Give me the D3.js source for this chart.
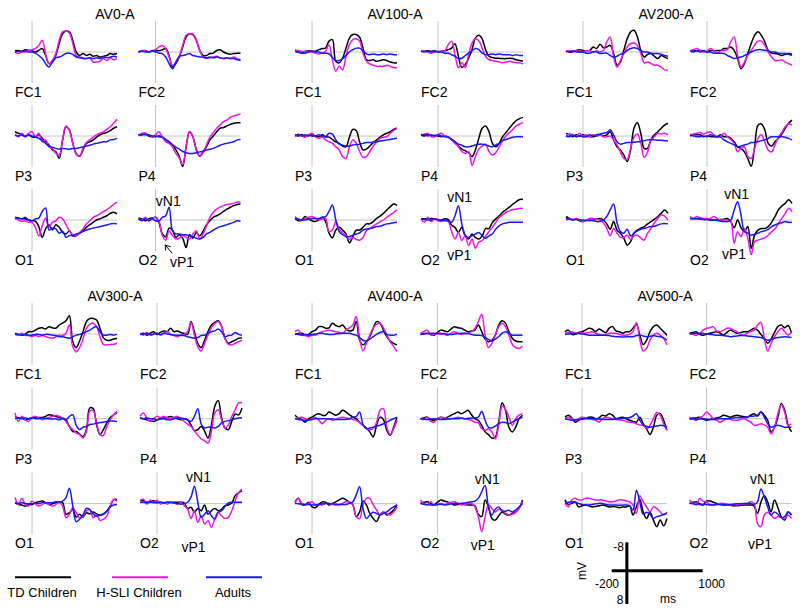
<!DOCTYPE html>
<html><head><meta charset="utf-8">
<script src="https://cdn.jsdelivr.net/npm/d3@7"></script>
<style>body{margin:0;background:#fff}svg{display:block}text{font-family:"Liberation Sans",Arial,sans-serif;fill:#000}</style>
</head><body><svg id="chart" width="800" height="611"></svg>
<script>
// ---------------- DATA ----------------
const TIMES = [-200,-160,-120,-80,-40,0,40,80,120,160,200,240,280,320,360,400,440,480,520,560,600,640,680,720,760,800,840,880,920,960,1000];
const CONDITIONS = ["AV0-A","AV100-A","AV200-A","AV300-A","AV400-A","AV500-A"];
const ELECTRODES = ["FC1","FC2","P3","P4","O1","O2"];
const GROUP_NAMES = ["TD Children","H-SLI Children","Adults"];
const SCALE_MS = [-200, 1000];
const SCALE_UV = [-8, 8];
const VN1_MS = [150, 255, 349, 489, 585, 659];
const VP1_MS = [312, 250, 318, 430, 533, 629];

// values in microvolts (negative plotted up)
const AV0_FC1_TD = [-0.3,-0.4,-0.2,-0.6,-0.4,-0.3,0,-0.4,-0.9,0.9,3.0,2.6,0.9,-2.2,-4.7,-5.4,-5.2,-3.0,0,0.9,0.4,0.9,0.6,1.1,0.9,1.3,1.1,0.9,0.4,0.6,0.4];
const AV0_FC1_HSLI = [0,0.4,-0.2,0,-0.4,-0.6,-0.9,-1.7,-3.0,0.4,3.0,2.2,0.4,-3.0,-5.2,-5.4,-4.9,-2.2,0.9,1.3,1.5,1.7,1.5,2.6,2.6,2.4,1.7,2.2,1.5,2.0,1.7];
const AV0_FC1_AD = [0,-0.2,0,-0.2,0,0,0.3,0.9,1.7,3.0,3.9,2.6,1.5,1.3,0.9,0.4,0.3,0.6,1.3,1.5,1.7,1.7,1.5,1.7,1.5,1.7,1.3,1.5,1.3,1.1,1.3];
const AV0_FC2_TD = [0,-0.3,-0.4,0,-0.2,-0.4,-0.3,-0.6,-0.9,0.9,3.9,3.0,1.3,-1.3,-3.9,-4.7,-4.5,-3.0,-0.4,0.9,0.9,0.4,0.3,-0.4,-0.6,0,0.4,0.6,0.4,0.3,0.3];
const AV0_FC2_HSLI = [0,-0.4,-0.3,0,-0.4,-0.6,-1.3,-1.7,-0.9,1.3,3.4,2.6,1.1,-1.7,-4.3,-4.7,-4.7,-3.2,-0.4,1.3,1.7,1.5,1.3,1.1,1.5,1.7,1.5,1.7,1.3,1.7,2.0];
const AV0_FC2_AD = [0,-0.2,0,0,-0.3,0,0.3,0.4,1.3,3.0,4.3,2.6,1.1,0.9,0.7,0.4,0.9,1.1,1.3,1.3,1.5,1.3,1.5,1.3,1.5,1.7,1.5,1.7,1.7,2.0,2.2];
const AV0_P3_TD = [-1.1,-0.7,-0.4,0,-0.3,0.2,0.3,-0.3,0.6,1.5,2.3,3.6,4.0,5.8,1.0,-2.4,-1.6,1.9,4.5,5.2,3.6,1.9,1.5,1.0,0.3,-0.3,-0.7,-0.9,-1.4,-2.0,-2.4];
const AV0_P3_HSLI = [-0.3,0.2,-0.7,0.2,-0.7,-1.1,0.2,-0.7,1.5,1.0,2.8,3.2,4.5,4.9,1.0,-2.6,-1.4,1.9,4.7,5.2,3.2,1.7,1.0,0.3,-0.3,-0.7,-1.1,-1.7,-2.4,-3.3,-4.3];
const AV0_P3_AD = [-0.3,0,-0.3,0.2,-0.3,0,0.3,0.6,1.2,1.9,2.6,2.9,3.2,3.4,3.2,3.3,3.4,3.2,3.2,3.0,2.8,2.6,2.4,2.1,1.9,1.7,1.5,1.5,1.0,0.9,0.6];
const AV0_P4_TD = [-0.3,-0.3,-0.7,0,0.2,0.2,0,0.3,1.0,1.5,2.3,3.6,5.3,7.9,2.8,-1.1,0.2,3.6,5.2,4.0,2.8,1.0,0,-1.1,-2.0,-2.2,-2.6,-3.0,-3.3,-3.4,-3.4];
const AV0_P4_HSLI = [0,-0.7,-0.7,-0.3,0.2,-0.3,-1.1,0.2,1.5,1.9,2.8,4.5,5.7,7.4,2.8,-1.1,0.2,3.4,5.2,4.3,2.3,0.3,-0.9,-2.0,-2.8,-3.7,-4.1,-4.8,-5.2,-5.4,-5.7];
const AV0_P4_AD = [-0.3,-0.4,-0.3,-0.3,0,0,0.2,0.3,0.9,1.5,2.3,2.9,3.4,4.0,4.3,4.5,4.5,4.3,4.1,3.9,3.6,3.4,3.2,2.8,2.4,2.1,1.9,1.7,1.5,1.0,0.9];
const AV0_O1_TD = [-0.7,-0.5,-0.3,-0.3,0,0.2,0.3,1.7,4.5,2.3,1.2,2.6,1.2,1.9,3.2,3.6,2.8,4.1,4.1,3.4,2.8,1.9,1.2,0.6,0,-0.3,-0.7,-1.1,-1.7,-2.0,-1.6];
const AV0_O1_HSLI = [-0.7,0,0.3,0.2,0.6,0.6,1.9,4.1,1.5,-0.5,1.9,0.6,0.2,-0.7,-0.3,1.2,2.8,3.8,4.1,3.2,2.3,1.0,0.2,-0.7,-1.1,-1.6,-2.2,-2.6,-3.3,-4.0,-4.6];
const AV0_O1_AD = [-0.3,-0.5,-0.3,-0.7,0,0.2,-0.3,-0.5,-2.2,-3.1,2.6,2.1,2.3,3.4,2.9,4.5,4.0,4.0,3.6,3.4,2.9,2.6,2.3,2.1,1.9,1.7,1.5,1.3,1.0,0.9,1.0];
const AV0_O2_TD = [-0.5,-0.3,0.2,-0.3,-0.5,-0.7,0.6,3.6,4.3,2.1,2.6,4.5,3.8,4.7,7.1,3.8,4.7,3.2,4.1,2.9,1.2,0.2,-0.7,-1.1,-1.6,-2.2,-2.8,-3.3,-3.7,-4.0,-4.1];
const AV0_O2_HSLI = [-0.3,0,-0.7,0.2,-0.3,-0.7,0.2,4.0,5.2,2.8,4.0,4.9,4.7,4.0,4.5,4.9,3.6,2.8,4.9,3.6,1.5,-0.7,-2.0,-2.8,-3.3,-3.7,-4.0,-4.1,-4.3,-4.6,-4.6];
const AV0_O2_AD = [-0.3,0.2,-0.3,0.2,-0.3,0.2,0.3,-0.7,-1.1,-3.3,2.8,3.6,3.6,3.8,3.8,4.1,4.3,4.7,4.9,4.5,3.6,3.2,2.6,2.1,1.7,1.5,1.2,0.9,0.6,0.2,0.3];

const AV100_FC1_TD = [-0.2,0,0.3,-0.2,-0.3,-0.2,-0.2,-0.6,-0.9,-1.0,-2.8,-3.2,2.4,2.8,1.6,-1.0,-3.6,-4.5,-4.5,-3.8,-1.0,2.0,2.2,2.0,2.4,2.2,2.0,2.2,2.6,2.8,2.8];
const AV100_FC1_HSLI = [-0.6,-0.3,-0.2,0,-0.2,0,0.3,0.5,0.3,-0.2,-1.9,2.0,5.0,3.7,4.6,1.1,-1.9,-3.2,-3.4,-2.8,0.3,2.4,3.1,3.4,3.7,3.7,3.7,3.4,3.7,4.0,4.1];
const AV100_FC1_AD = [-0.2,0,0.3,0.3,0,-0.2,0,0,0.3,0.3,0.5,1.4,2.2,2.2,1.7,0.9,0,-0.6,-1.0,-1.0,-0.3,0.5,0.7,0.5,0.7,0.7,0.5,0.7,0.5,0.7,0.7];
const AV100_FC2_TD = [-0.2,-0.2,-0.3,-0.2,-0.3,0,-0.2,-0.3,-0.6,-1.0,-2.1,1.1,4.0,3.3,1.6,-0.6,-3.6,-4.3,-3.4,-0.6,1.1,1.4,1.6,1.6,1.7,1.7,1.6,1.7,2.0,2.2,2.4];
const AV100_FC2_HSLI = [-0.3,-0.2,0,0.3,0,-0.2,-0.2,-0.3,-1.9,-2.8,0.7,4.1,2.8,4.0,0.7,-2.3,-3.4,-2.9,-1.0,1.1,2.0,2.2,2.4,2.6,2.8,2.6,2.4,2.6,2.8,2.8,3.1];
const AV100_FC2_AD = [-0.2,0,-0.2,0,-0.2,0,0,0.3,0.3,0.7,1.1,1.7,1.6,0.9,0.3,-0.3,-0.9,-0.6,0.3,0.7,0.7,0.5,0.7,0.5,0.7,0.7,0.7,0.9,0.7,0.9,0.9];
const AV100_P3_TD = [-0.3,0,-0.4,0.2,-0.3,0,0,0.2,-0.3,0.2,0.3,0.9,1.5,1.9,2.6,2.8,0.3,-1.7,-1.4,1.5,3.6,3.4,2.6,1.7,1.0,0.3,-0.3,-0.7,-1.1,-1.7,-2.0];
const AV100_P3_HSLI = [0.2,-0.5,0,0.3,-0.3,-0.7,0.2,0.6,0.2,1.0,1.5,1.9,2.8,3.6,5.3,5.8,2.8,1.0,1.9,4.0,5.5,5.3,4.0,2.6,1.5,0.6,0.3,0.2,-0.7,-1.4,-2.0];
const AV100_P3_AD = [-0.3,-0.3,0,-0.3,0,-0.3,0,-0.3,0,0.2,-0.7,-0.5,1.0,2.1,2.4,2.6,2.6,2.3,2.2,2.1,1.9,1.7,1.7,1.6,1.5,1.3,1.2,1.0,0.9,0.7,0.6];
const AV100_P4_TD = [-0.3,0,-0.4,0,-0.2,0,0.2,0,0.3,0.9,1.5,2.6,3.4,3.8,4.3,5.3,3.6,0.6,-2.0,-2.6,-1.1,1.9,2.8,1.9,0.2,-0.9,-2.0,-3.1,-4.0,-4.5,-4.8];
const AV100_P4_HSLI = [-0.3,-0.5,-0.7,0.2,0.2,-0.3,-0.7,0,0.3,1.0,1.9,2.8,4.0,4.5,4.0,7.6,5.3,3.4,2.6,2.1,4.0,4.9,4.3,2.8,1.2,0,-0.9,-1.7,-2.6,-3.1,-3.4];
const AV100_P4_AD = [-0.3,-0.3,0,-0.3,0,-0.3,0,0.2,0.3,0.9,1.5,2.1,2.4,2.8,2.8,2.6,2.3,2.1,2.1,2.3,2.6,2.8,2.3,1.9,1.2,0.9,0.6,0.3,0.2,0.2,0.2];
const AV100_O1_TD = [-0.4,0.2,0,-0.9,-0.2,0.2,0.4,0,-0.7,0.4,3.4,4.6,2.6,1.9,2.6,3.6,5.9,4.3,2.6,2.6,1.9,1.0,1.0,0.4,-0.4,-1.0,-1.7,-2.6,-3.4,-4.1,-3.8];
const AV100_O1_HSLI = [-0.9,-0.2,0,-0.4,-0.7,-0.9,-0.4,0,-0.2,-0.4,3.0,2.6,0.4,2.4,3.3,4.1,5.0,4.5,5.0,5.2,4.5,2.8,2.2,1.6,1.0,0.5,0,-0.7,-1.3,-1.9,-2.6];
const AV100_O1_AD = [-0.4,-0.2,0,0,-0.2,-0.4,-0.4,-0.4,-0.7,-0.9,-2.2,-3.9,0,3.0,3.8,4.3,4.3,3.9,3.6,3.3,2.6,2.3,2.2,2.0,1.7,1.6,1.3,1.0,0.9,0.7,0.6];
const AV100_O2_TD = [-0.3,-0.3,-0.3,-0.4,-0.3,0,0,-0.3,-0.1,1.3,1.9,3.2,1.9,4.1,4.9,3.6,4.5,4.9,4.1,2.2,2.2,0.6,-0.3,-1.1,-2.0,-2.7,-3.3,-4.1,-4.7,-5.3,-5.3];
const AV100_O2_HSLI = [-0.3,0.6,-0.7,0.4,-0.3,0.2,0.4,0.2,0.4,3.0,4.9,3.2,5.3,4.0,6.6,4.9,7.3,5.7,5.3,4.1,3.0,1.9,0.6,-0.7,-1.3,-2.0,-2.4,-2.7,-2.8,-3.0,-3.0];
const AV100_O2_AD = [-0.3,-0.1,0,0,-0.3,-0.1,0,0.1,0.2,0.6,-1.1,-3.7,1.0,3.9,4.5,4.1,3.6,3.2,4.1,4.7,4.1,3.6,2.3,1.5,1.0,0.8,0.6,0.6,0.6,0.6,0.6];

const AV200_FC1_TD = [-0.3,0,0,-0.4,-0.6,-0.4,-0.3,-0.4,-1.3,-0.9,-2.0,-1.1,-1.3,-1.7,0.4,3.4,2.6,-0.4,-3.4,-5.2,-5.6,-3.9,-0.4,1.3,0.6,0.4,1.1,1.7,0.9,1.3,1.7];
const AV200_FC1_HSLI = [0,-0.4,0,-0.3,0,0,-0.4,-0.3,0,-0.3,0,-0.4,-2.6,-3.9,1.3,3.9,2.2,0.4,-1.3,-2.2,-2.3,-1.7,0.4,2.8,2.6,3.0,3.4,3.4,3.9,4.6,4.7];
const AV200_FC1_AD = [-0.3,0,-0.3,0,0,0,0.3,0.3,0,0,0.4,0.3,0.3,0.9,1.3,1.1,0.6,0.3,-0.4,-0.9,-1.1,-0.9,-0.4,0,0,0.3,0.4,0.4,0.6,0.9,1.1];
const AV200_FC2_TD = [-0.3,-0.4,-0.3,-0.4,-0.3,0,-0.4,-0.3,-0.4,-0.4,-0.9,-0.9,-1.3,-0.4,1.7,4.3,3.0,0.4,-2.2,-4.3,-5.2,-4.3,-2.6,-0.4,0.3,0.4,0.6,0.9,0.6,0.4,0.6];
const AV200_FC2_HSLI = [-0.3,-0.6,-0.9,-0.4,0,-0.3,-0.9,-0.4,0.3,-0.3,-0.4,-0.6,-2.6,-3.9,0.9,3.9,2.6,0.9,-0.4,-1.7,-2.8,-2.8,-1.7,0,1.3,2.2,2.2,2.0,2.6,3.0,3.4];
const AV200_FC2_AD = [-0.3,0,-0.3,0,-0.3,0,0,0.3,0.3,0.3,0.4,0.9,1.3,1.7,1.5,1.3,0.9,0.4,0,-0.4,-0.6,-0.6,-0.4,-0.3,0,0,0.3,0.4,0.4,0.6,0.9];
const AV200_P3_TD = [-0.7,-0.3,0.2,-0.3,0,-0.3,0,0.2,0.2,0,-0.3,0,-0.3,-1.1,1.0,2.8,3.6,4.9,6.6,3.6,-2.0,-3.4,-0.7,3.2,3.2,0.9,-0.3,-1.1,-2.0,-2.8,-3.3];
const AV200_P3_HSLI = [0.2,-0.5,-0.3,0.2,-0.7,0.2,-0.3,0.2,-0.3,0,-0.3,0.2,0.2,0,1.0,2.3,4.1,5.8,6.0,3.2,0.3,-0.5,1.9,5.5,4.1,1.0,0.2,-0.7,-0.5,-0.7,-0.3];
const AV200_P3_AD = [0,0.2,-0.3,0.2,0,0.2,0.2,-0.3,0,-0.3,-0.5,-0.7,-0.9,-1.6,-0.3,1.5,2.1,1.9,1.7,1.7,1.6,1.5,1.4,1.2,1.0,1.0,1.0,1.1,1.1,1.2,1.3];
const AV200_P4_TD = [0,-0.3,-0.3,-0.3,0.2,0,0.2,0.2,0.2,-0.3,0.2,0.2,0.6,1.5,2.8,3.2,4.1,5.8,7.8,2.8,-2.8,-3.1,-1.6,1.9,2.6,1.5,0.6,-0.5,-2.0,-3.3,-4.1];
const AV200_P4_HSLI = [-0.3,-0.5,-0.7,-0.9,-0.5,-0.9,-1.1,-0.3,0.2,0,-0.7,0.2,0.9,1.9,4.1,3.2,2.8,5.3,5.8,3.2,0.6,-0.3,1.5,3.6,4.1,2.3,0.3,-0.9,-2.4,-3.1,-2.8];
const AV200_P4_AD = [-0.3,0,0.2,0.2,0,0.2,-0.3,0,0.2,0.3,1.0,1.5,1.9,2.3,2.8,2.6,2.3,2.1,1.7,1.7,1.5,1.2,1.0,0.6,0.2,0.2,0.2,0.2,0.3,0.6,1.0];
const AV200_O1_TD = [-0.9,-0.4,0,-0.2,0.2,0.4,0,0.2,0,-0.2,-0.4,0,1.0,2.4,0.4,2.6,3.4,4.7,6.5,5.6,3.4,2.6,2.1,1.7,1.0,0.4,-0.2,-0.9,-1.7,-2.6,-1.7];
const AV200_O1_HSLI = [0,-0.4,-0.2,-0.4,0,0.4,0,-0.4,-0.4,-0.2,0,0.7,2.2,4.1,2.2,3.4,4.5,4.5,3.9,5.0,4.1,3.9,4.7,5.2,3.4,2.2,0.7,-0.4,-1.3,-1.0,0];
const AV200_O1_AD = [-0.4,-0.2,0,-0.2,0,0,0.2,0,0.2,0.4,0.4,0,-0.9,-2.6,-4.1,0.7,3.0,3.4,2.4,4.1,3.4,2.8,2.4,2.2,1.9,1.7,1.6,1.3,1.0,0.9,1.0];
const AV200_O2_TD = [-0.4,-0.4,-0.4,-0.4,-0.3,-0.2,0,0,0,-0.1,-0.2,-0.4,0.4,2.0,0,2.0,3.0,1.7,7.3,3.9,2.6,2.2,2.2,1.7,0.6,-0.9,-2.6,-3.6,-4.3,-5.2,-4.3];
const AV200_O2_HSLI = [-0.9,-0.4,-0.9,-0.6,-0.4,-0.4,-0.4,-0.9,-0.4,0,0,0,0.4,6.0,3.0,4.3,2.2,4.7,8.9,5.6,5.2,4.9,4.6,3.9,3.0,2.3,0.9,-0.4,-1.7,-3.0,-2.2];
const AV200_O2_AD = [-0.4,-0.3,-0.3,-0.2,-0.1,-0.1,0,0,0.1,0.3,0.4,0.4,0,-2.6,-4.7,-1.3,3.0,3.4,3.9,3.7,3.4,3.0,2.8,2.4,1.7,1.3,0.9,0.7,0.4,0.6,0.6];

const AV300_FC1_TD = [-0.2,0.1,0.3,0.1,-0.6,-0.6,-1.0,-1.5,-1.6,-1.3,-1.9,-1.6,-1.5,-2.3,-2.8,-3.4,-4.7,2.0,3.5,1.8,-0.6,-3.2,-4.0,-4.0,-3.6,-1.5,1.0,1.6,1.6,1.3,1.1];
const AV300_FC1_HSLI = [0.1,0.3,-0.2,0.3,0.4,0.7,0.3,0.7,0.4,0.7,0.9,1.1,0.7,0.3,0.4,-0.2,-2.3,3.3,4.6,3.5,1.3,-1.5,-2.5,-2.8,-1.9,0.7,2.7,2.8,2.7,2.7,2.4];
const AV300_FC1_AD = [0,0.1,0.3,0.1,0.3,0.3,0.1,0.1,0.3,0.1,0.1,0.3,0.4,0.7,0.7,0.9,1.1,0.7,0.3,0.1,-0.2,-0.6,-1.0,-1.6,-1.9,-0.6,0.3,0.3,0.1,0.3,0.1];
const AV300_FC2_TD = [0.1,-0.2,0.3,-0.2,-0.6,0.1,-0.4,-0.8,-0.6,-1.5,-0.6,-0.8,-0.4,-0.2,0.1,-3.2,-0.6,2.4,3.5,1.6,-0.6,-2.3,-3.0,-3.4,-1.9,1.1,2.4,2.0,1.6,1.1,1.0];
const AV300_FC2_HSLI = [-0.2,0.3,-0.4,0.3,0.1,-0.2,0.3,-0.2,-0.6,0.1,0.4,0.7,0.3,0.1,-0.6,-3.0,0.3,3.3,4.4,2.4,0.3,-1.6,-2.7,-3.2,-1.9,1.3,2.7,2.8,2.4,2.0,1.6];
const AV300_FC2_AD = [0.1,0,-0.2,0.1,0,-0.2,0.1,-0.2,0,0.1,0.3,0.3,0.3,0.4,0.7,0.9,1.1,0.9,0.4,0.3,-0.2,-0.6,-0.8,-1.3,-0.6,0.7,0.4,0.3,-0.4,0.1,0.3];
const AV300_P3_TD = [-0.6,-0.2,-0.2,0.3,0.1,-0.2,-0.3,-0.3,-0.3,-0.6,-1.0,-0.9,-0.6,-0.3,-0.2,0.3,2.0,3.3,3.3,4.0,4.6,2.8,-2.8,-2.6,1.6,4.1,2.8,1.1,-0.3,-1.0,-1.5];
const AV300_P3_HSLI = [-1.5,0.7,-0.6,0.3,0.7,-0.3,-0.6,-0.2,0.3,-0.2,-0.3,-0.6,-0.9,-0.6,-0.2,0.7,2.0,2.8,3.7,4.1,5.0,3.3,-1.9,-2.1,1.1,4.1,4.3,2.0,0.3,-1.0,-1.9];
const AV300_P3_AD = [0,-0.2,0,-0.2,0,-0.2,0,0,-0.2,0,0,0.1,0,0.3,0,0.3,-0.6,-1.0,1.7,2.8,2.2,2.0,1.5,1.4,1.2,1.0,0.9,0.7,0.6,0.6,0.7];
const AV300_P4_TD = [-0.2,0,0.3,0.5,0.7,0.3,0,-0.2,-0.3,-0.6,-0.3,0,0.3,0,0.3,1.6,3.1,2.8,2.0,3.2,5.0,1.6,-3.2,-4.7,-0.2,2.4,2.8,0.7,-1.2,-1.0,-2.8];
const AV300_P4_HSLI = [-0.6,-1.5,-0.2,0.7,0,-0.6,-0.3,-0.6,-0.2,0,-0.3,-0.6,0,0.7,1.4,2.0,3.1,4.3,5.2,5.7,6.3,3.3,-1.5,-2.3,0.3,2.4,1.6,-0.6,-2.3,-4.1,-4.1];
const AV300_P4_AD = [-0.2,0,-0.2,0,0,0.3,0.1,0,0.3,0.3,0,-0.2,-0.2,0,0.3,0.7,-0.6,-2.6,1.4,2.4,2.2,2.2,2.4,2.0,1.1,0.7,0.5,0.3,0,-0.2,-0.2];
const AV300_O1_TD = [-0.2,0.3,0.4,0.7,0.3,0.3,-0.2,-0.4,-0.6,-0.2,0.3,0.1,-0.2,-0.4,-0.2,2.8,2.4,1.6,3.5,2.8,3.5,2.4,2.7,2.2,2.7,3.0,2.8,2.0,0.7,-1.0,-1.0];
const AV300_O1_HSLI = [-1.5,0.3,-1.3,0.3,0.7,-0.6,0.1,0.7,0.3,-0.2,0.3,0.7,0.3,-0.2,0.7,3.7,2.8,1.1,2.4,3.7,3.3,2.0,1.6,3.7,3.0,4.4,4.1,3.3,0.7,-1.0,-0.6];
const AV300_O1_AD = [-0.2,0,-0.2,0,0.1,0.1,-0.1,0.1,-0.2,-0.2,-0.2,-0.2,-0.4,-0.4,-0.6,-1.5,-3.9,0.7,4.7,4.1,3.0,1.3,1.6,2.7,3.3,3.0,2.7,2.0,0.9,0.4,0.3];
const AV300_O2_TD = [-0.7,-0.7,-0.3,-0.5,-0.7,-0.3,-0.3,-0.1,-0.3,-0.3,-0.3,-0.3,-0.3,-0.1,1.3,1.0,2.3,1.3,1.9,0.4,2.8,1.9,1.3,1.9,1.5,0.6,0.4,-0.1,-2.0,-2.7,-3.3];
const AV300_O2_HSLI = [-0.7,-1.1,0.2,-0.9,-0.1,-0.9,0.2,-0.3,0.2,-0.3,-0.1,0.2,-0.3,0.6,1.5,3.9,1.9,4.9,3.2,5.3,4.5,6.2,3.9,2.3,3.2,3.9,3.6,1.9,-0.7,-2.8,-3.7];
const AV300_O2_AD = [-0.3,-0.3,-0.2,-0.3,-0.3,-0.1,-0.3,-0.2,-0.3,-0.2,-0.1,0,0.2,0,-0.3,-1.6,-4.4,-0.3,3.6,2.8,1.9,3.2,4.1,2.3,1.9,0.8,-0.1,-0.3,-0.3,-0.3,-0.3];

const AV400_FC1_TD = [0.1,-0.1,-0.2,0.3,0.1,-0.6,-1.0,-1.9,-1.9,-1.5,-1.6,-2.8,-2.2,-1.9,-2.3,-1.3,-0.8,-1.0,-3.2,1.6,2.8,2.0,0.7,-1.5,-3.2,-2.8,-1.0,0.7,1.8,2.4,2.8];
const AV400_FC1_HSLI = [-0.6,-1.0,0.3,0.4,0.7,0.3,0.3,-0.2,-0.6,-0.8,-1.0,-0.8,-0.6,-0.4,-0.2,-1.0,-1.6,-2.3,-4.5,1.1,4.4,2.4,0.3,-1.5,-2.5,-2.8,-1.6,0.3,2.0,3.2,4.5];
const AV400_FC1_AD = [0,0.1,0.3,0.1,0.3,0.1,0,-0.2,-0.2,0,0.1,0.1,0,-0.1,-0.2,-0.2,-0.2,0.1,0.3,0.9,1.6,1.8,1.3,0.7,0.1,-0.4,-0.6,0.1,0.3,0.3,0.1];
const AV400_FC2_TD = [0.1,-0.1,-0.2,0.1,0.3,-0.4,-1.0,-0.8,-0.6,-1.3,-1.9,-1.6,-1.5,-1.0,-0.6,-0.8,-1.0,-2.3,-0.6,1.3,2.0,1.6,0.3,-2.3,-3.4,-2.8,-0.6,1.1,1.8,2.0,2.0];
const AV400_FC2_HSLI = [-0.2,-0.6,-1.0,0.3,0.1,-0.2,-0.2,0.1,0.3,-0.2,-0.6,-0.2,0.1,-0.1,-0.2,-0.6,-1.5,-3.2,-5.1,0.3,3.5,2.4,0.3,-1.9,-2.8,-1.9,0.3,2.7,3.5,3.7,3.2];
const AV400_FC2_AD = [0.1,0,-0.1,-0.2,-0.2,-0.1,0,-0.1,0.1,0.1,0,-0.1,-0.2,-0.2,-0.1,0.1,0.3,0.3,0.4,0.9,1.4,1.8,1.3,0.7,-0.2,-0.6,-0.2,0.3,0.3,0.3,0.3];
const AV400_P3_TD = [-0.9,-0.2,0.2,0.9,0,-0.4,-1.0,-1.3,-0.9,-0.9,-1.7,-1.3,-0.9,-1.3,-2.2,-1.7,-1.0,-0.4,0,0.9,1.7,2.4,3.4,4.7,1.7,-0.4,0.2,3.0,4.3,2.2,-0.4];
const AV400_P3_HSLI = [0,-0.2,-0.4,0,0.4,0,-0.4,0.4,1.3,0.4,0,0.4,0.2,-0.2,-0.4,-0.2,0,0.2,0.4,1.0,1.7,2.6,2.8,2.6,0.9,-2.2,-2.6,2.2,4.1,2.6,0.4];
const AV400_P3_AD = [0,0.2,0.3,0.4,0.3,0.2,0,0,0,0,0.1,0,0.2,0.2,0.2,0.2,0,-0.4,-0.6,-1.7,1.5,2.6,2.4,2.2,1.9,1.7,1.3,0.9,0.4,0,-0.4];
const AV400_P4_TD = [0,-0.2,-0.4,0.2,0.4,0,-0.4,0,-0.4,-0.9,-1.3,-1.7,-1.3,-1.7,-2.2,-1.0,0,0.4,1.7,3.4,4.1,5.0,4.7,0.9,-4.1,-2.2,2.2,3.4,2.2,0,-0.9];
const AV400_P4_HSLI = [0,0.2,-0.4,0.7,0.9,0,-0.4,-0.2,0,0,-0.2,-0.4,-0.2,0,0.2,0.4,0.9,1.0,2.6,3.0,2.6,3.4,5.2,1.7,-3.3,-2.4,-0.4,1.7,0,-0.9,-1.3];
const AV400_P4_AD = [0,0.1,0.2,0.1,0,0.1,0.2,0.2,0.1,0,0,0,-0.1,0,-0.1,-0.2,-0.2,-0.4,-1.9,0.4,2.2,2.4,1.9,1.3,0.9,1.0,1.3,0.9,0.4,0,-0.4];
const AV400_O1_TD = [-0.4,-1.3,0.3,0.4,-0.3,0.9,1.1,0.3,-0.4,-0.3,0.4,0,-0.4,-0.9,-1.3,-0.9,-0.3,0.3,3.4,2.2,-0.6,0.4,2.6,3.9,4.7,3.0,2.2,3.0,2.5,1.7,0.4];
const AV400_O1_HSLI = [0,-1.3,0,0.4,0,-0.4,0.4,0.3,0.4,0,0,0.3,0.4,0.4,0,-0.4,-0.4,0.4,3.4,3.9,0.4,-1.3,-1.3,0.4,1.7,3.0,2.2,2.6,3.0,2.2,0.9];
const AV400_O1_AD = [0,0.1,0.2,0.3,0.3,0.4,0.4,0.3,0.1,0,0,0.1,0.2,0.3,0.3,0.3,0,-0.4,-2.2,-4.3,1.3,3.9,3.0,2.3,2.6,3.0,2.6,2.2,1.5,0.9,0.4];
const AV400_O2_TD = [0,-0.3,-0.4,0,0.4,-0.3,-0.9,-0.6,-0.4,0,0.4,0.3,0,0.3,0.4,0.4,0.6,2.8,3.4,-0.9,0.9,3.9,4.3,3.2,2.2,2.8,3.0,2.6,2.2,1.3,-0.9];
const AV400_O2_HSLI = [-0.9,0,0.4,-0.4,0.4,0.3,0,0.3,0,-0.3,-0.4,0,0.4,0.3,0,0,0.9,3.4,7.3,3.4,0.4,1.3,2.2,1.5,1.7,2.6,3.0,2.8,2.3,1.3,-0.4];
const AV400_O2_AD = [0,0.2,0.3,0.4,0.4,0.3,0.2,0.4,0.3,0.1,0,0,0,-0.1,-0.3,-0.4,-0.6,-1.3,-3.0,-4.6,1.1,3.0,1.5,0.9,2.0,2.0,1.8,2.2,1.7,0.9,0];

const AV500_FC1_TD = [-0.6,-1.0,0.1,0.1,-0.4,-0.6,-1.0,-1.5,-1.3,-0.6,-1.3,-0.8,-0.4,-1.5,-1.9,-0.8,-0.6,-0.2,-0.6,-0.6,-1.5,-2.5,0.3,2.7,1.6,-0.6,-1.9,-2.3,-1.5,-0.6,0.3];
const AV500_FC1_HSLI = [-0.2,-0.4,-0.6,-0.2,-0.2,-0.3,-0.2,-0.4,-0.6,-0.2,0.1,0.3,0.1,-0.2,-0.2,-0.2,0.1,0.3,0.3,0.1,-0.6,-3.0,1.3,4.4,3.7,1.6,0.3,-0.2,0.3,1.1,2.8];
const AV500_FC1_AD = [0.1,0,-0.1,-0.2,-0.1,0,0.1,0.3,0.3,0.3,0.3,0.3,0.3,0.4,0.6,0.7,0.7,0.8,0.7,0.7,0.7,0.4,0.3,0.5,0.7,0.6,0.4,0.6,0.7,1.0,1.6];
const AV500_FC2_TD = [-0.2,-0.4,-0.6,0.1,0.3,0.1,-0.2,-0.4,-0.6,-0.2,0.3,-0.4,-1.0,-0.6,-0.2,-0.4,-0.6,-0.6,-1.0,-1.5,-1.0,0.1,1.1,2.4,1.3,-0.4,-1.9,-2.3,-1.6,-2.2,-0.2];
const AV500_FC2_HSLI = [-0.2,0.1,0.3,-0.2,-1.0,-1.5,-1.6,-1.9,-0.8,-0.6,-1.0,-1.5,-1.5,-1.0,-0.6,0.1,0.3,-0.2,-0.6,-1.0,-2.3,-3.0,1.1,4.4,2.4,0.7,-0.6,-1.5,-0.6,0.3,-0.6];
const AV500_FC2_AD = [0,-0.1,-0.2,-0.1,-0.2,0,0.1,0.2,0.3,0.3,0.4,0.5,0.7,0.6,0.5,0.4,0.4,0.5,0.6,0.7,0.8,0.9,1.3,1.6,1.4,1.1,0.9,0.8,0.7,0.8,0.9];
const AV500_P3_TD = [-0.4,-0.9,-0.2,0.9,0.4,0,-0.2,-0.4,-0.4,0,-0.2,-0.9,-0.7,-1.3,-0.9,0,-0.2,-0.4,0,0.4,0.7,0.9,-0.4,1.3,2.6,4.1,2.2,-0.9,-1.3,0.4,3.0];
const AV500_P3_HSLI = [0,-0.4,0,0.4,0,-0.4,-0.2,0,0.2,0.4,0.9,0,-0.4,-0.2,0,0.2,0.3,0.4,0.7,0.9,1.0,1.3,1.6,1.7,2.6,1.7,0,-1.6,-0.9,1.3,3.0];
const AV500_P3_AD = [0,0.2,0.4,0.3,0.2,0.1,0,0,0,0.1,0.1,0.2,0.2,0.2,0.2,0.1,0,-0.1,-0.2,-0.3,-0.7,-1.3,0.4,1.6,2.0,2.2,2.0,1.9,1.7,1.8,2.2];
const AV500_P4_TD = [0,-0.2,-0.2,-0.4,0,0.4,0.2,0,-0.2,-0.4,-0.9,-0.7,-0.4,-0.7,-0.9,-0.7,-0.5,-0.4,-0.9,-1.3,-0.7,-1.7,-0.9,0.4,3.4,2.2,-0.4,-3.9,-2.2,1.7,3.4];
const AV500_P4_HSLI = [-0.4,0,0.4,-0.2,-0.7,-1.7,-1.0,0,0.4,0.9,0.4,0,0.2,0.4,0.4,0.2,0,0.4,0.9,1.7,1.6,1.3,1.6,2.2,3.9,2.2,-1.3,-3.6,-1.7,1.7,1.3];
const AV500_P4_AD = [0,0.1,0.2,0.1,0,0.1,0.2,0.2,0.1,0,0,0,-0.1,-0.2,-0.3,-0.3,-0.4,-0.5,-0.6,-0.7,-0.9,-1.7,-0.4,1.3,2.2,1.9,1.7,1.9,2.2,2.2,2.2];
const AV500_O1_TD = [-0.9,0.3,0,-0.4,0.9,0.6,0.4,0.6,0.9,0.8,0.6,0.4,0.6,0.9,0.8,0.9,1.1,0.9,0.9,0.6,3.0,0.9,-1.1,2.2,3.9,2.3,4.3,6.0,4.3,5.8,3.9];
const AV500_O1_HSLI = [0,0.9,-0.9,-1.3,-0.9,-0.9,-1.3,-1.3,-1.1,-0.9,-0.9,-0.9,-0.6,-0.4,-0.4,-0.6,-0.9,-0.9,-0.6,-0.4,0.4,2.6,-2.0,-0.4,0.9,2.2,0.9,1.3,2.2,3.0,2.2];
const AV500_O1_AD = [0,-0.3,-0.4,-0.3,0,0.3,0.4,0.4,0.3,0.1,0,0,0.3,0.4,0.4,0.4,0.5,0.4,0.4,0.6,1.7,-3.4,-0.4,2.8,2.3,2.8,3.9,3.4,3.2,2.8,2.6];
const AV500_O2_TD = [0,-0.3,-0.4,0.1,0.4,-0.6,-0.6,-0.3,0,0.3,0.4,0.4,0.5,0.6,0.6,0.5,0.4,0.4,0.4,0.7,2.6,-0.3,-2.0,-0.4,2.2,-0.9,1.1,3.4,4.3,2.2,3.0];
const AV500_O2_HSLI = [-0.9,0,0.4,-1.3,-0.6,-0.4,0.3,0.4,0.3,0,0,0.3,0.4,0.3,0.4,0.3,0.1,0,-0.4,0,5.2,6.0,3.0,2.3,3.0,3.9,3.4,3.7,3.9,3.0,3.9];
const AV500_O2_AD = [0,0.1,0.2,0.3,0.3,0.3,0.4,0.4,0.3,0.3,0.3,0.3,0.3,0.2,0.1,0.1,0,0,0,0.3,-0.4,-3.7,-1.7,0.9,3.0,2.2,2.8,3.7,3.4,2.2,3.0];

// lookup table built from the arrays above
const WAVES = {
  "AV0-A":   {FC1:[AV0_FC1_TD,AV0_FC1_HSLI,AV0_FC1_AD], FC2:[AV0_FC2_TD,AV0_FC2_HSLI,AV0_FC2_AD], P3:[AV0_P3_TD,AV0_P3_HSLI,AV0_P3_AD], P4:[AV0_P4_TD,AV0_P4_HSLI,AV0_P4_AD], O1:[AV0_O1_TD,AV0_O1_HSLI,AV0_O1_AD], O2:[AV0_O2_TD,AV0_O2_HSLI,AV0_O2_AD]},
  "AV100-A": {FC1:[AV100_FC1_TD,AV100_FC1_HSLI,AV100_FC1_AD], FC2:[AV100_FC2_TD,AV100_FC2_HSLI,AV100_FC2_AD], P3:[AV100_P3_TD,AV100_P3_HSLI,AV100_P3_AD], P4:[AV100_P4_TD,AV100_P4_HSLI,AV100_P4_AD], O1:[AV100_O1_TD,AV100_O1_HSLI,AV100_O1_AD], O2:[AV100_O2_TD,AV100_O2_HSLI,AV100_O2_AD]},
  "AV200-A": {FC1:[AV200_FC1_TD,AV200_FC1_HSLI,AV200_FC1_AD], FC2:[AV200_FC2_TD,AV200_FC2_HSLI,AV200_FC2_AD], P3:[AV200_P3_TD,AV200_P3_HSLI,AV200_P3_AD], P4:[AV200_P4_TD,AV200_P4_HSLI,AV200_P4_AD], O1:[AV200_O1_TD,AV200_O1_HSLI,AV200_O1_AD], O2:[AV200_O2_TD,AV200_O2_HSLI,AV200_O2_AD]},
  "AV300-A": {FC1:[AV300_FC1_TD,AV300_FC1_HSLI,AV300_FC1_AD], FC2:[AV300_FC2_TD,AV300_FC2_HSLI,AV300_FC2_AD], P3:[AV300_P3_TD,AV300_P3_HSLI,AV300_P3_AD], P4:[AV300_P4_TD,AV300_P4_HSLI,AV300_P4_AD], O1:[AV300_O1_TD,AV300_O1_HSLI,AV300_O1_AD], O2:[AV300_O2_TD,AV300_O2_HSLI,AV300_O2_AD]},
  "AV400-A": {FC1:[AV400_FC1_TD,AV400_FC1_HSLI,AV400_FC1_AD], FC2:[AV400_FC2_TD,AV400_FC2_HSLI,AV400_FC2_AD], P3:[AV400_P3_TD,AV400_P3_HSLI,AV400_P3_AD], P4:[AV400_P4_TD,AV400_P4_HSLI,AV400_P4_AD], O1:[AV400_O1_TD,AV400_O1_HSLI,AV400_O1_AD], O2:[AV400_O2_TD,AV400_O2_HSLI,AV400_O2_AD]},
  "AV500-A": {FC1:[AV500_FC1_TD,AV500_FC1_HSLI,AV500_FC1_AD], FC2:[AV500_FC2_TD,AV500_FC2_HSLI,AV500_FC2_AD], P3:[AV500_P3_TD,AV500_P3_HSLI,AV500_P3_AD], P4:[AV500_P4_TD,AV500_P4_HSLI,AV500_P4_AD], O1:[AV500_O1_TD,AV500_O1_HSLI,AV500_O1_AD], O2:[AV500_O2_TD,AV500_O2_HSLI,AV500_O2_AD]}
};

// ---------------- LAYOUT / STYLE ----------------
const COLORS = ["#000000", "#ec16ec", "#1a1af0"];
const GRID_COLOR = "#c4c4c4";
const PANEL_AXIS_X = [32, 312, 583, 32, 312, 582];   // x of t=0 axis in FC1 column
const PANEL_ZERO_Y = [52, 52, 52, 334, 334, 334];    // zero line of top (FC) row
const ROW_STEP = [84, 84, 84, 84.7, 84.7, 84.7];
const COL_STEP = [123.5, 126, 124, 125, 125.5, 124.5];
const HALF_H = 31;                                    // px for 8 uV
const VN1_DY = [-14, -17.6, -21, -21.6, -19, -19];
const VP1_DY = [47, 40, 39, 48.4, 46.6, 45.6];

const svg = d3.select("#chart");
const FONT = 14;

CONDITIONS.forEach((cond, ci) => {
  const g = svg.append("g");
  const ax0 = PANEL_AXIS_X[ci], zy0 = PANEL_ZERO_Y[ci];

  g.append("text").attr("x", ax0 + 83).attr("y", zy0 - 33)
    .attr("text-anchor", "middle").style("font-size", FONT + "px").text(cond);

  ELECTRODES.forEach((el, ei) => {
    const col = ei % 2, row = Math.floor(ei / 2);
    const ax = ax0 + col * COL_STEP[ci];
    const zy = zy0 + row * ROW_STEP[ci];
    const x = d3.scaleLinear().domain([-200, 1000]).range([ax - 17, ax + 85]);
    const y = d3.scaleLinear().domain([-8, 8]).range([zy - HALF_H, zy + HALF_H]);

    g.append("line").attr("x1", x(-200)).attr("x2", x(1000)).attr("y1", y(0)).attr("y2", y(0))
      .attr("stroke", GRID_COLOR).attr("stroke-width", 1);
    g.append("line").attr("x1", x(0)).attr("x2", x(0)).attr("y1", y(-8)).attr("y2", y(8))
      .attr("stroke", GRID_COLOR).attr("stroke-width", 1);

    const line = d3.line().x((d, i) => x(TIMES[i])).y(d => y(d))
      .curve(d3.curveCatmullRom.alpha(0.5));
    WAVES[cond][el].forEach((series, si) => {
      g.append("path").datum(series).attr("d", line)
        .attr("fill", "none").attr("stroke", COLORS[si]).attr("stroke-width", 1.5)
        .attr("stroke-linejoin", "round");
    });

    g.append("text").attr("x", x(-200)).attr("y", zy + 45)
      .style("font-size", FONT + "px").text(el);

    if (el === "O2") {
      g.append("text").attr("x", x(VN1_MS[ci])).attr("y", zy + VN1_DY[ci])
        .attr("text-anchor", "middle").style("font-size", FONT + "px").text("vN1");
      g.append("text").attr("x", x(VP1_MS[ci])).attr("y", zy + VP1_DY[ci])
        .attr("text-anchor", "middle").style("font-size", FONT + "px").text("vP1");
      if (ci === 0) {
        const hx = ax + 9.7, hy = zy + 25, tx = ax + 16.7, ty = zy + 33.3;
        g.append("line").attr("x1", tx).attr("y1", ty).attr("x2", hx).attr("y2", hy)
          .attr("stroke", "#000").attr("stroke-width", 1);
        g.append("path").attr("d", `M${hx + 0.5},${hy + 5.5} L${hx},${hy} L${hx + 5.5},${hy + 1.8}`)
          .attr("fill", "none").attr("stroke", "#000").attr("stroke-width", 1);
      }
    }
  });
});

// ---------------- LEGEND ----------------
const LEG_X = [[15, 71], [112, 168], [206, 262]];
const leg = svg.append("g");
GROUP_NAMES.forEach((name, i) => {
  leg.append("line").attr("x1", LEG_X[i][0]).attr("x2", LEG_X[i][1])
    .attr("y1", 577.3).attr("y2", 577.3).attr("stroke", COLORS[i]).attr("stroke-width", 2);
  leg.append("text").attr("x", (LEG_X[i][0] + LEG_X[i][1]) / 2 - 1).attr("y", 597)
    .attr("text-anchor", "middle").style("font-size", "13px").text(name);
});

// ---------------- SCALE BAR ----------------
const sx = d3.scaleLinear().domain(SCALE_MS).range([611.7, 702.7]);
const sy = d3.scaleLinear().domain([SCALE_UV[0], 0, SCALE_UV[1]]).range([542.3, 570.7, 604]);
const sb = svg.append("g");
sb.append("line").attr("x1", sx(0)).attr("x2", sx(0)).attr("y1", sy(-8)).attr("y2", sy(8))
  .attr("stroke", "#000").attr("stroke-width", 3);
sb.append("line").attr("x1", sx(-200)).attr("x2", sx(1000)).attr("y1", sy(0)).attr("y2", sy(0))
  .attr("stroke", "#000").attr("stroke-width", 3);
sb.append("text").attr("x", sx(0) - 3).attr("y", sy(-8) + 8.5).attr("text-anchor", "end")
  .style("font-size", "12px").text(SCALE_UV[0]);
sb.append("text").attr("x", sx(0) - 3.5).attr("y", sy(8)).attr("text-anchor", "end")
  .style("font-size", "12px").text(SCALE_UV[1]);
sb.append("text").attr("x", sx(-200) - 4.7).attr("y", 587.5).attr("text-anchor", "middle")
  .style("font-size", "12px").text(SCALE_MS[0]);
sb.append("text").attr("x", sx(1000) + 9).attr("y", 587.5).attr("text-anchor", "middle")
  .style("font-size", "12px").text(SCALE_MS[1]);
sb.append("text").attr("x", 668).attr("y", 603).attr("text-anchor", "middle")
  .style("font-size", "12px").text("ms");
sb.append("text").attr("transform", "translate(585.5,571) rotate(-90)").attr("text-anchor", "middle")
  .style("font-size", "12px").text("mV");
</script>
</body></html>
